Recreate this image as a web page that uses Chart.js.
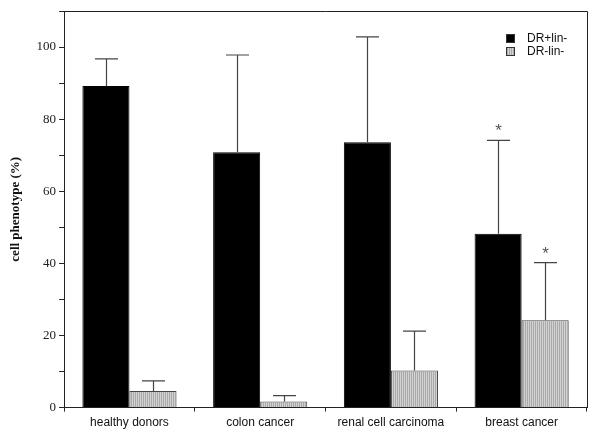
<!DOCTYPE html>
<html>
<head>
<meta charset="utf-8">
<script src="https://cdn.jsdelivr.net/npm/chart.js@4"></script>
<style>
  html, body { margin: 0; padding: 0; background: #fff; }
  #wrap { width: 600px; height: 442px; }
</style>
</head>
<body>
<div id="wrap"><canvas id="chart" width="600" height="442"></canvas></div>
<script>
// data
const categories = ['healthy donors', 'colon cancer', 'renal cell carcinoma', 'breast cancer'];
const drPosValues = [89.2, 70.8, 73.6, 48.2];
const drPosErrTop = [96.7, 97.8, 102.8, 74.1];
const drNegValues = [4.6, 1.7, 10.3, 24.2];
const drNegErrTop = [7.4, 3.3, 21.2, 40.2];
const drPosStar = [false, false, false, true];
const drNegStar = [false, false, false, true];
const seriesLabels = ['DR+lin-', 'DR-lin-'];

// vertical hatching for the grey bars
function stripes() {
    const c = document.createElement('canvas');
    c.width = 2; c.height = 1;
    const g = c.getContext('2d');
    g.fillStyle = '#d2d2d2'; g.fillRect(0, 0, 1, 1);
    g.fillStyle = '#a9a9a9'; g.fillRect(1, 0, 1, 1);
    return g.createPattern(c, 'repeat');
}
const greyFill = stripes();

const errorBars = {
    id: 'errorBars',
    afterDatasetsDraw(chart) {
        const ctx = chart.ctx;
        const y = chart.scales.y;
        const tops = [drPosErrTop, drNegErrTop];
        const stars = [drPosStar, drNegStar];
        ctx.save();
        ctx.strokeStyle = '#444';
        ctx.lineWidth = 1.2;
        tops.forEach((arr, di) => {
            const meta = chart.getDatasetMeta(di);
            meta.data.forEach((bar, i) => {
                const x = Math.round(bar.x) + 0.5;
                const yTop = y.getPixelForValue(arr[i]);
                ctx.beginPath();
                ctx.moveTo(x, bar.y);
                ctx.lineTo(x, yTop);
                ctx.moveTo(x - 11.5, yTop);
                ctx.lineTo(x + 11.5, yTop);
                ctx.stroke();
                if (stars[di][i]) {
                    ctx.fillStyle = '#555';
                    ctx.font = '17px "Liberation Sans"';
                    ctx.textAlign = 'center';
                    ctx.textBaseline = 'alphabetic';
                    ctx.fillText('*', x, yTop - 4);
                }
            });
        });
        ctx.restore();
    }
};

const frameAndLegend = {
    id: 'frameAndLegend',
    afterDraw(chart) {
        const ctx = chart.ctx;
        const a = chart.chartArea;
        ctx.save();
        ctx.strokeStyle = '#222';
        ctx.lineWidth = 1;
        ctx.beginPath();
        ctx.moveTo(a.left, a.top + 0.5);
        ctx.lineTo(a.right + 0.5, a.top + 0.5);
        ctx.lineTo(a.right + 0.5, a.bottom);
        ctx.stroke();
        // legend
        const fills = ['#000', greyFill];
        ctx.font = '12px "Liberation Sans"';
        ctx.textBaseline = 'middle';
        ctx.textAlign = 'left';
        seriesLabels.forEach((lab, i) => {
            const bx = a.right - 81, by = a.top + 23 + i * 13;
            ctx.fillStyle = fills[i];
            ctx.fillRect(bx, by, 9, 9);
            ctx.strokeStyle = '#333';
            ctx.strokeRect(bx + 0.5, by + 0.5, 8, 8);
            ctx.fillStyle = '#111';
            ctx.fillText(lab, bx + 21, by + 5);
        });
        ctx.restore();
    }
};

new Chart(document.getElementById('chart'), {
    type: 'bar',
    data: {
        labels: categories,
        datasets: [{
            label: seriesLabels[0],
            data: drPosValues,
            backgroundColor: '#000',
            borderColor: '#000',
            borderWidth: 1
        }, {
            label: seriesLabels[1],
            data: drNegValues,
            backgroundColor: greyFill,
            borderColor: '#444',
            borderWidth: 1
        }]
    },
    options: {
        responsive: false,
        animation: false,
        devicePixelRatio: 1,
        layout: { padding: { top: 11, right: 13, bottom: 8, left: 8 } },
        datasets: {
            bar: { categoryPercentage: 0.72, barPercentage: 1 }
        },
        plugins: {
            legend: { display: false },
            tooltip: { enabled: false }
        },
        scales: {
            x: {
                grid: { drawOnChartArea: false, drawTicks: true, tickLength: 4, color: '#222' },
                border: { color: '#222', width: 1 },
                ticks: {
                    color: '#111',
                    font: { family: '"Liberation Sans"', size: 12 },
                    padding: 4,
                    maxRotation: 0
                }
            },
            y: {
                min: 0,
                max: 110,
                grid: { drawOnChartArea: false, drawTicks: true, tickLength: 5, color: '#222' },
                border: { color: '#222', width: 1 },
                ticks: {
                    stepSize: 10,
                    color: '#222',
                    padding: 3,
                    font: { family: '"Liberation Serif"', size: 13 },
                    callback: (v) => (v % 20 === 0 && v <= 100) ? v : ''
                },
                title: {
                    display: true,
                    text: 'cell phenotype (%)',
                    color: '#111',
                    font: { family: '"Liberation Serif"', size: 13, weight: 'bold' },
                    padding: { top: 0, bottom: 10 }
                }
            }
        }
    },
    plugins: [errorBars, frameAndLegend]
});
</script>
</body>
</html>
